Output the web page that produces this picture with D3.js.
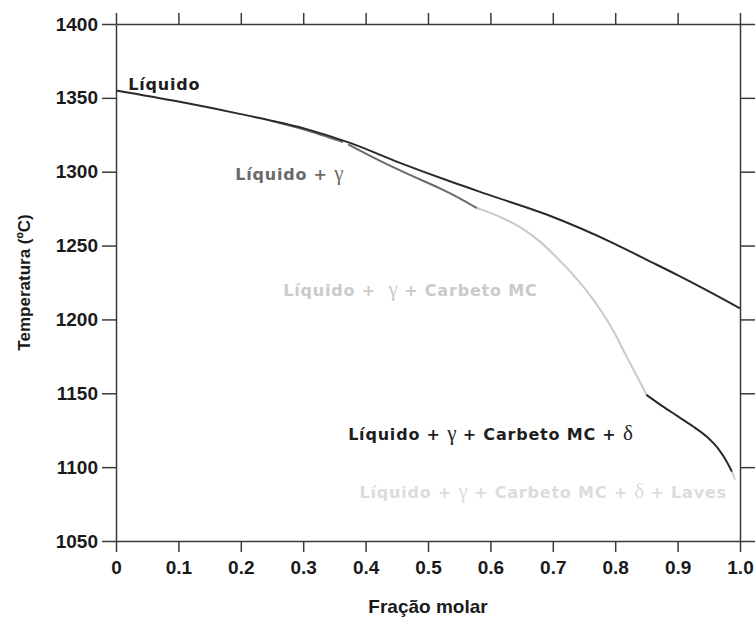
<!DOCTYPE html>
<html>
<head>
<meta charset="utf-8">
<script src="https://cdn.jsdelivr.net/npm/d3@7"></script>
<style>
  body { margin: 0; background: #fff; }
  svg { display: block; }
  .axis path, .axis line { stroke: #3a3a3a; stroke-width: 1.5; }
  .axis text { font-family: "Liberation Sans", Arial, sans-serif; font-weight: bold; font-size: 19px; fill: #1a1a1a; }
  .lbl { font-family: "DejaVu Sans", sans-serif; font-weight: bold; font-size: 16px; letter-spacing: 0.8px; }
  .greek { font-family: "Liberation Serif", serif; font-weight: normal; font-size: 21px; letter-spacing: 0; }
</style>
</head>
<body>
<svg width="756" height="617"></svg>
<script>
const W = 756, H = 617;
const margin = {top: 24, right: 16, bottom: 76, left: 116};

// ticks
const xTicks = [0, 0.1, 0.2, 0.3, 0.4, 0.5, 0.6, 0.7, 0.8, 0.9, 1.0];
const xTickLabels = ["0", "0.1", "0.2", "0.3", "0.4", "0.5", "0.6", "0.7", "0.8", "0.9", "1.0"];
const yTicks = [1050, 1100, 1150, 1200, 1250, 1300, 1350, 1400];

// liquidus (black, upper)
const liqX = [0, 0.1, 0.2, 0.3, 0.375, 0.455, 0.535, 0.6, 0.69, 0.8, 0.85, 0.9, 0.95, 1.0];
const liqT = [1355, 1347.5, 1339, 1329.5, 1319.5, 1306, 1293.5, 1284, 1271, 1251, 1240.5, 1230, 1219, 1207.5];

// Liquido + gamma boundary (dark grey); null marks the small break
const gamX = [0.25, 0.3, 0.364, null, 0.372, 0.42, 0.47, 0.52, 0.555, 0.58];
const gamT = [1334.3, 1328.7, 1320, null, 1318.5, 1308, 1298, 1288.5, 1281, 1275];

// + carbeto MC (light grey)
const mcX = [0.578, 0.62, 0.653, 0.68, 0.706, 0.733, 0.754, 0.781, 0.8, 0.818, 0.835, 0.85];
const mcT = [1275.5, 1268.5, 1261, 1252.5, 1242, 1230, 1219.5, 1203.5, 1190, 1175, 1161.5, 1149];

// + delta (black, lower)
const delX = [0.85, 0.875, 0.9, 0.925, 0.947, 0.965, 0.979, 0.987];
const delT = [1149, 1141.5, 1134.5, 1127.5, 1120.5, 1112.5, 1103.5, 1097];

// + Laves (light grey tail)
const lavX = [0.987, 0.992];
const lavT = [1097, 1091.5];

const svg = d3.select("svg");
const iw = W - margin.left - margin.right, ih = H - margin.top - margin.bottom;

const x = d3.scaleLinear().domain([0, 1]).range([margin.left, margin.left + iw]);
const y = d3.scaleLinear().domain([1050, 1400]).range([margin.top + ih, margin.top]);

function fmtX(d){ return xTickLabels[xTicks.indexOf(d)]; }

svg.append("g").attr("class", "axis")
  .attr("transform", `translate(0,${y(1050)})`)
  .call(d3.axisBottom(x).tickValues(xTicks).tickFormat(fmtX).tickSize(11).tickSizeOuter(0).tickPadding(9));
svg.append("g").attr("class", "axis")
  .attr("transform", `translate(0,${y(1400)})`)
  .call(d3.axisTop(x).tickValues(xTicks).tickFormat("").tickSize(11).tickSizeOuter(0));
svg.append("g").attr("class", "axis")
  .attr("transform", `translate(${x(0)},0)`)
  .call(d3.axisLeft(y).tickValues(yTicks).tickFormat(d3.format("d")).tickSize(14).tickSizeOuter(0).tickPadding(4));
svg.append("g").attr("class", "axis")
  .attr("transform", `translate(${x(1)},0)`)
  .call(d3.axisRight(y).tickValues(yTicks).tickFormat("").tickSize(15).tickSizeOuter(0));

const line = d3.line()
  .defined(d => d[0] != null)
  .curve(d3.curveMonotoneX)
  .x(d => x(d[0])).y(d => y(d[1]));

function draw(xs, ts, color){
  const pts = xs.map((v, i) => [v, ts[i]]);
  svg.append("path").datum(pts)
    .attr("d", line)
    .attr("fill", "none")
    .attr("stroke", color)
    .attr("stroke-width", 2)
    .attr("stroke-linejoin", "round");
}

draw(gamX, gamT, "#6a6a6a");
draw(mcX, mcT, "#c9c9c9");
draw(lavX, lavT, "#cfcfcf");
draw(delX, delT, "#2a2a2a");
draw(liqX, liqT, "#2a2a2a");

// phase labels: [x, T, anchor, colour, parts]
const labels = [
  [0.0197, 1355.2, "start", "#1e1e1e", [["Líquido", 0]]],
  [0.191, 1294.6, "start", "#6a6a6a", [["Líquido + ", 0], ["γ", 1]]],
  [0.268, 1215.6, "start", "#cacaca", [["Líquido +  ", 0], ["γ", 1], [" + Carbeto MC", 0]]],
  [0.372, 1118.6, "start", "#1e1e1e", [["Líquido + ", 0], ["γ", 1], [" + Carbeto MC + ", 0], ["δ", 1]]],
  [0.979, 1079.3, "end", "#dcdcdc", [["Líquido + ", 0], ["γ", 1], [" + Carbeto MC + ", 0], ["δ", 1], [" + Laves", 0]]]
];

labels.forEach(function(l){
  const t = svg.append("text")
    .attr("class", "lbl")
    .attr("x", x(l[0])).attr("y", y(l[1]))
    .attr("text-anchor", l[2])
    .attr("fill", l[3])
    .style("white-space", "pre");
  l[4].forEach(function(p){
    t.append("tspan").attr("class", p[1] ? "lbl greek" : null).text(p[0]);
  });
});

// axis titles
svg.append("text")
  .attr("x", x(0.5)).attr("y", 613)
  .attr("text-anchor", "middle")
  .style("font-family", "Liberation Sans, Arial, sans-serif")
  .style("font-weight", "bold").style("font-size", "19px").attr("fill", "#1a1a1a")
  .text("Fração molar");

svg.append("text")
  .attr("transform", `translate(30,${y(1225)}) rotate(-90)`)
  .attr("text-anchor", "middle")
  .style("font-family", "Liberation Sans, Arial, sans-serif")
  .style("font-weight", "bold").style("font-size", "17px").attr("fill", "#1a1a1a")
  .text("Temperatura (ºC)");
</script>
</body>
</html>
